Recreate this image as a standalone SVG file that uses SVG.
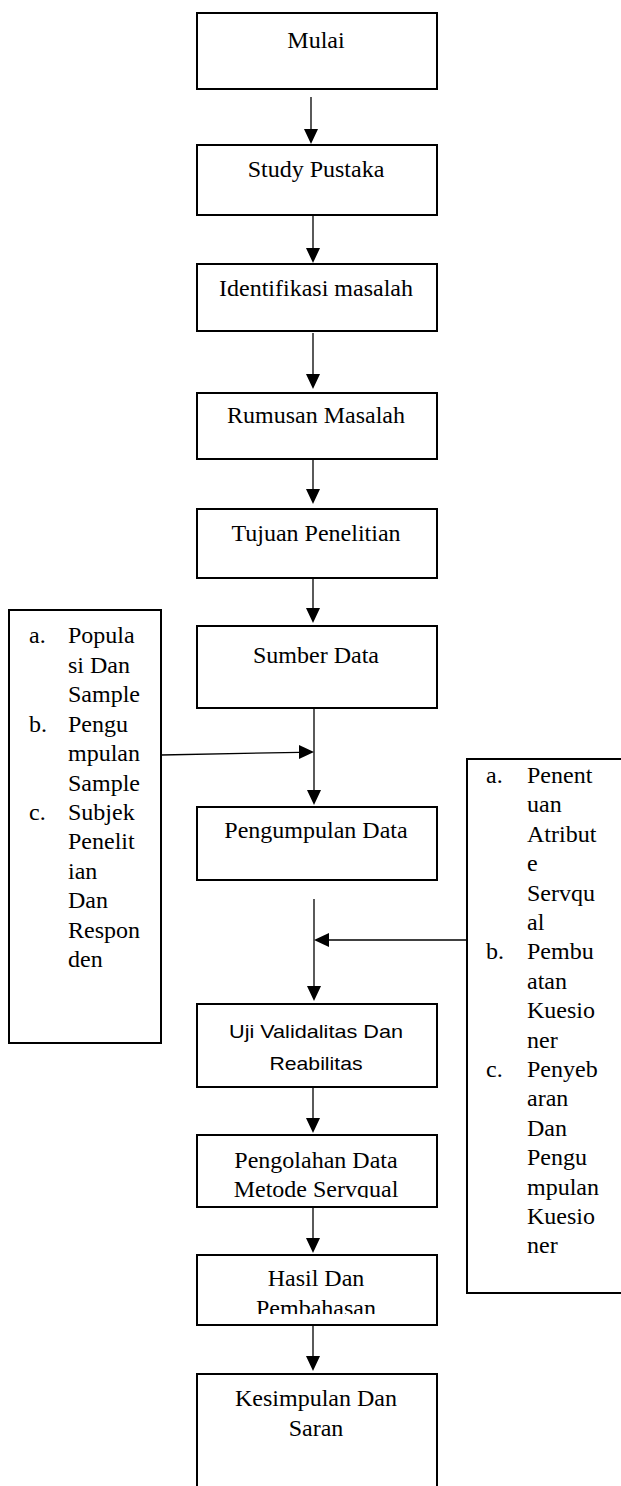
<svg xmlns="http://www.w3.org/2000/svg" width="621" height="1486" viewBox="0 0 621 1486">
<style>
.box{fill:#fff;stroke:#000;stroke-width:2}
.t{font-family:"Liberation Serif","Times New Roman",serif;font-size:24px;fill:#000}
.c{text-anchor:middle}
.s{font-family:"Liberation Sans",Arial,sans-serif;font-size:19px;fill:#000;text-anchor:middle}
.ln{stroke:#000;stroke-width:1.3;fill:none}
.ah{fill:#000}
</style>
<defs>
<clipPath id="clipPeng"><rect x="196" y="1135" width="242" height="63"/></clipPath>
<clipPath id="clipHasil"><rect x="196" y="1255" width="242" height="59"/></clipPath>
</defs>
<rect width="621" height="1486" fill="#fff"/>
<g id="connectors">
<line class="ln" x1="311" y1="97" x2="311" y2="130"/><polygon class="ah" points="304,129 318,129 311,144"/>
<line class="ln" x1="313" y1="216" x2="313" y2="249"/><polygon class="ah" points="306,248 320,248 313,263"/>
<line class="ln" x1="313" y1="333" x2="313" y2="376"/><polygon class="ah" points="306,374 320,374 313,389"/>
<line class="ln" x1="313" y1="460" x2="313" y2="491"/><polygon class="ah" points="306,489 320,489 313,504"/>
<line class="ln" x1="313" y1="579" x2="313" y2="610"/><polygon class="ah" points="306,608 320,608 313,623"/>
<line class="ln" x1="314" y1="708" x2="314" y2="792"/><polygon class="ah" points="307,790 321,790 314,805"/>
<line class="ln" x1="161" y1="755" x2="300" y2="752.3"/><polygon class="ah" points="299,745 314,752 299,759"/>
<line class="ln" x1="314" y1="899" x2="314" y2="987"/><polygon class="ah" points="307,986 321,986 314,1001"/>
<line class="ln" x1="467" y1="940" x2="328" y2="940"/><polygon class="ah" points="329,933 314,940 329,947"/>
<line class="ln" x1="313" y1="1088" x2="313" y2="1120"/><polygon class="ah" points="306,1118 320,1118 313,1133"/>
<line class="ln" x1="313" y1="1208" x2="313" y2="1240"/><polygon class="ah" points="306,1238 320,1238 313,1253"/>
<line class="ln" x1="313" y1="1326" x2="313" y2="1358"/><polygon class="ah" points="306,1356 320,1356 313,1371"/>
</g>
<g id="mulai"><rect class="box" x="197" y="13" width="240" height="76"/><text class="t c" x="316" y="48">Mulai</text></g>
<g id="study"><rect class="box" x="197" y="145" width="240" height="70"/><text class="t c" x="316" y="177">Study Pustaka</text></g>
<g id="identifikasi"><rect class="box" x="197" y="264" width="240" height="67"/><text class="t c" x="316" y="296">Identifikasi masalah</text></g>
<g id="rumusan"><rect class="box" x="197" y="393" width="240" height="66"/><text class="t c" x="316" y="423">Rumusan Masalah</text></g>
<g id="tujuan"><rect class="box" x="197" y="509" width="240" height="69"/><text class="t c" x="316" y="541">Tujuan Penelitian</text></g>
<g id="sumber"><rect class="box" x="197" y="626" width="240" height="82"/><text class="t c" x="316" y="663">Sumber Data</text></g>
<g id="pengumpulan"><rect class="box" x="197" y="807" width="240" height="73"/><text class="t c" x="316" y="838">Pengumpulan Data</text></g>
<g id="uji"><rect class="box" x="197" y="1004" width="240" height="83"/><text class="s" x="316" y="1038" textLength="174" lengthAdjust="spacingAndGlyphs">Uji Validalitas Dan</text><text class="s" x="316" y="1070" textLength="93" lengthAdjust="spacingAndGlyphs">Reabilitas</text></g>
<g id="pengolahan"><rect class="box" x="197" y="1135" width="240" height="72"/><g clip-path="url(#clipPeng)"><text class="t c" x="316" y="1168">Pengolahan Data</text><text class="t c" x="316" y="1197">Metode Servqual</text></g></g>
<g id="hasil"><rect class="box" x="197" y="1255" width="240" height="70"/><g clip-path="url(#clipHasil)"><text class="t c" x="316" y="1286">Hasil Dan</text><text class="t c" x="316" y="1316">Pembahasan</text></g></g>
<g id="kesimpulan"><rect class="box" x="197" y="1374" width="240" height="130"/><text class="t c" x="316" y="1406">Kesimpulan Dan</text><text class="t c" x="316" y="1436">Saran</text></g>
<g id="left-box"><rect class="box" x="9" y="610" width="152" height="433"/>
<text class="t" x="29" y="643">a.</text><text class="t" x="68" y="643">Popula</text>
<text class="t" x="68" y="672.5">si Dan</text>
<text class="t" x="68" y="702">Sample</text>
<text class="t" x="29" y="731.5">b.</text><text class="t" x="68" y="731.5">Pengu</text>
<text class="t" x="68" y="761">mpulan</text>
<text class="t" x="68" y="790.5">Sample</text>
<text class="t" x="29" y="820">c.</text><text class="t" x="68" y="820">Subjek</text>
<text class="t" x="68" y="849">Penelit</text>
<text class="t" x="68" y="878.5">ian</text>
<text class="t" x="68" y="908">Dan</text>
<text class="t" x="68" y="937.5">Respon</text>
<text class="t" x="68" y="967">den</text>
</g>
<g id="right-box"><rect class="box" x="467" y="759" width="160" height="534"/>
<text class="t" x="486" y="783">a.</text><text class="t" x="527" y="783">Penent</text>
<text class="t" x="527" y="812.4">uan</text>
<text class="t" x="527" y="841.8">Atribut</text>
<text class="t" x="527" y="871.2">e</text>
<text class="t" x="527" y="900.6">Servqu</text>
<text class="t" x="527" y="930">al</text>
<text class="t" x="486" y="959.4">b.</text><text class="t" x="527" y="959.4">Pembu</text>
<text class="t" x="527" y="988.8">atan</text>
<text class="t" x="527" y="1018.2">Kuesio</text>
<text class="t" x="527" y="1047.6">ner</text>
<text class="t" x="486" y="1077">c.</text><text class="t" x="527" y="1077">Penyeb</text>
<text class="t" x="527" y="1106.4">aran</text>
<text class="t" x="527" y="1135.8">Dan</text>
<text class="t" x="527" y="1165.2">Pengu</text>
<text class="t" x="527" y="1194.6">mpulan</text>
<text class="t" x="527" y="1224">Kuesio</text>
<text class="t" x="527" y="1253.4">ner</text>
</g>
</svg>
